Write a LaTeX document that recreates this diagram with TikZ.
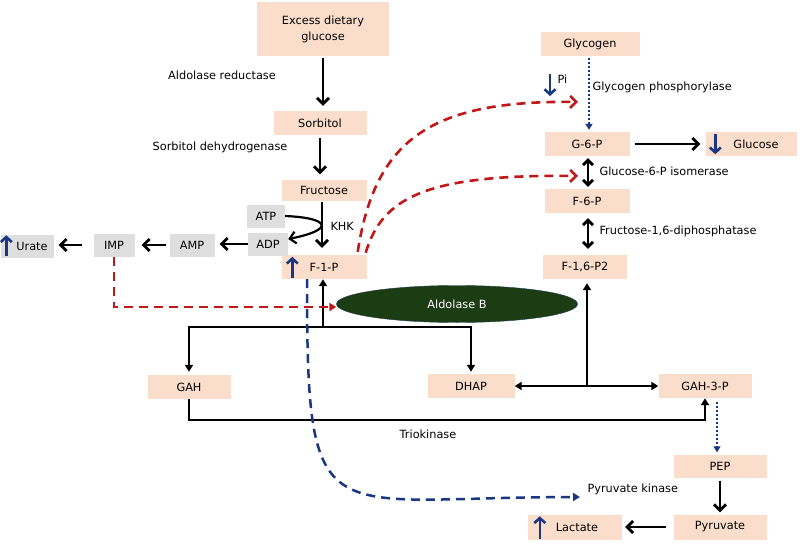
\documentclass[tikz,border=0pt]{standalone}
\usepackage{fontspec}
\setmainfont{DejaVu Sans}
\usetikzlibrary{arrows.meta,calc,positioning,shapes.geometric}

\definecolor{peach}{RGB}{250,222,203}
\definecolor{greyBox}{RGB}{222,222,222}
\definecolor{navy}{RGB}{26,56,130}
\definecolor{darkRed}{RGB}{192,24,24}
\definecolor{enzymeGreen}{RGB}{28,60,20}

\begin{document}
\begin{tikzpicture}[
    x=1pt, y=-1pt,
    font=\fontsize{11.3}{16}\selectfont,
    metab/.style={fill=peach, inner sep=0pt, minimum height=24pt},
    cofactor/.style={fill=greyBox, inner sep=0pt, minimum height=23pt},
    flowArrow/.style={-{Straight Barb[length=6pt,width=12pt]}, line width=2.8pt},
    splitArrow/.style={-{Triangle[length=7pt,width=8pt]}, line width=2.2pt},
    twoWay/.style={{Straight Barb[length=5pt,width=10pt]}-{Straight Barb[length=5pt,width=10pt]}, line width=2.8pt},
    twoWaySmall/.style={{Triangle[length=7pt,width=8pt]}-{Triangle[length=7pt,width=8pt]}, line width=2.2pt},
    navyArrow/.style={-{Straight Barb[length=5pt,width=11pt]}, line width=2.6pt, draw=navy},
    navyDotted/.style={-{Triangle[length=6pt,width=7pt]}, line width=2.2pt, draw=navy, dash pattern=on 2pt off 2pt},
    navyDash/.style={-{Triangle[length=7pt,width=8pt]}, line width=2.5pt, draw=navy, dash pattern=on 9pt off 6pt},
    redDash/.style={line width=2.6pt, draw=darkRed, dash pattern=on 9pt off 6pt},
  ]
\useasboundingbox (0,0) rectangle (800,559);

% ---- fructose entry ---------------------------------------------------
\node[metab, minimum width=132pt, minimum height=54pt, align=center] (glucoseIn) at (323,29) {Excess dietary\\glucose};
\node[metab, minimum width=93pt] (sorbitol) at (320,123) {Sorbitol};
\node[metab, minimum width=85pt, minimum height=21pt] (fructose) at (324,190) {Fructose};
\node[metab, minimum width=85pt] (fOneP) at (324,267) {F-1-P};
\node (reductaseLabel) at (222,75) {Aldolase reductase};
\node (dehydroLabel) at (220,147) {Sorbitol dehydrogenase};
\node[anchor=west] (khkLabel) at (327,226) {KHK};

\draw[flowArrow, shorten <=2pt, shorten >=5pt] (glucoseIn.south) -- (glucoseIn.south |- sorbitol.north);
\draw[flowArrow, shorten <=3pt, shorten >=5pt] (sorbitol.south) -- (sorbitol.south |- fructose.north);
\draw[flowArrow, shorten <=1pt, shorten >=7pt] ([xshift=-2pt]fructose.south) -- ([xshift=-2pt]fOneP.north);

% ---- ATP depletion ----------------------------------------------------
\node[cofactor, minimum width=38pt] (atp) at (266,216) {ATP};
\node[cofactor, minimum width=40pt] (adp) at (268,244) {ADP};
\node[cofactor, minimum width=45pt] (amp) at (192,245) {AMP};
\node[cofactor, minimum width=41pt] (imp) at (114,245) {IMP};
\node[cofactor, minimum width=53pt] (urate) at (27,246) {\hspace*{10pt}Urate};

\draw[flowArrow, line width=2.2pt] (atp.east) .. controls +(46,2) and +(46,-9) .. ([yshift=5pt]adp.east);
\draw[flowArrow, shorten >=5pt] (adp.west) -- (adp.west -| amp.east);
\draw[flowArrow, shorten <=3pt, shorten >=7pt] (amp.west) -- (amp.west -| imp.east);
\draw[flowArrow, shorten <=11pt, shorten >=5pt] (imp.west) -- (imp.west -| urate.east);
\draw[navyArrow] ([xshift=6pt,yshift=2pt]urate.south west) -- ([xshift=6pt,yshift=-1pt]urate.north west);
\draw[navyArrow] ([xshift=11pt,yshift=1pt]fOneP.south west) -- ([xshift=11pt,yshift=-2pt]fOneP.north west);

% ---- aldolase B cleavage ------------------------------------------------
\node[ellipse, fill=enzymeGreen, draw=navy!50!enzymeGreen, minimum width=241pt, minimum height=37pt, inner sep=0pt, text=white] (aldolaseB) at (457,304) {Aldolase B};
\node[metab, minimum width=83pt] (gah) at (189,387) {GAH};
\node[metab, minimum width=87pt] (dhap) at (471,386) {DHAP};
\node[metab, minimum width=93pt] (gahThreeP) at (705,386) {GAH-3-P};
\node (triLabel) at (428,434) {Triokinase};
\coordinate (split) at (323,327);
\coordinate (merge) at (587,386);
\coordinate (triLevel) at (0,420);

\draw[splitArrow] (split) -- (split |- fOneP.south);
\draw[splitArrow, shorten >=3pt] (split) -| (gah.north);
\draw[splitArrow, shorten >=2pt] (split) -| (dhap.north);
\draw[splitArrow] (gah.south) -- (gah.south |- triLevel) -| (gahThreeP.south);
\draw[twoWaySmall] (dhap) -- (gahThreeP);

% ---- glycogen and gluconeogenesis --------------------------------------
\node[metab, minimum width=99pt] (glycogen) at (590,44) {Glycogen};
\node[metab, minimum width=85pt] (gSixP) at (587,144) {G-6-P};
\node[metab, minimum width=91pt] (glucoseOut) at (751,144) {\hspace*{10pt}Glucose};
\node[metab, minimum width=85pt] (fSixP) at (587,201) {F-6-P};
\node[metab, minimum width=84pt] (fBisP) at (585,267) {F-1,6-P2};
\node[anchor=west] (piLabel) at (554,79) {Pi};
\node[anchor=west] (phosLabel) at (589,87) {Glycogen phosphorylase};
\node[anchor=west] (isoLabel) at (596,171) {Glucose-6-P isomerase};
\node[anchor=west] (fbpLabel) at (596,231) {Fructose-1,6-diphosphatase};

\draw[splitArrow, shorten >=4pt] (merge) -- (merge |- fBisP.south);
\draw[navyDotted, shorten <=2pt, shorten >=2pt] ([xshift=2pt]gSixP.north |- glycogen.south) -- ([xshift=2pt]gSixP.north);
\draw[flowArrow, shorten <=5pt, shorten >=5pt] (gSixP) -- (glucoseOut);
\draw[twoWay, shorten <=2pt, shorten >=2pt] ([xshift=1pt]gSixP.south) -- ([xshift=1pt]fSixP.north);
\draw[twoWay, shorten <=5pt, shorten >=6pt] ([xshift=1pt]fSixP.south) -- ([xshift=1pt]fSixP.south |- fBisP.north);
\draw[navyArrow] ([xshift=10pt,yshift=-2pt]glucoseOut.north west) -- ([xshift=10pt,yshift=2pt]glucoseOut.south west);
\draw[navyArrow] ($(piLabel.west)+(-4,-5)$) -- ++(0,22);

% ---- glycolysis to lactate ------------------------------------------------
\node[metab, minimum width=93pt, minimum height=23pt] (pep) at (720,466) {PEP};
\node[metab, minimum width=93pt, minimum height=25pt] (pyruvate) at (720,527) {Pyruvate};
\node[metab, minimum width=94pt, minimum height=25pt] (lactate) at (575,527) {\hspace*{4pt}Lactate};
\node[anchor=west] (pkLabel) at (584,489) {Pyruvate kinase};

\draw[navyDotted, shorten <=4pt, shorten >=2pt] ([xshift=-3pt]pep.north |- gahThreeP.south) -- ([xshift=-3pt]pep.north);
\draw[flowArrow, shorten <=3pt, shorten >=2pt] (pep) -- (pyruvate);
\draw[flowArrow, shorten <=7pt, shorten >=3pt] (pyruvate) -- (lactate);
\draw[navyArrow] ([xshift=12pt,yshift=1pt]lactate.south west) -- ([xshift=12pt,yshift=-2pt]lactate.north west);

% ---- regulatory effects of F-1-P -------------------------------------------
\coordinate (phosTarget) at (578,102);
\coordinate (isoTarget) at (578,176);
\coordinate (kinaseTarget) at (580,497);
\draw[redDash, -{Triangle[length=7pt,width=8pt]}] (imp.south) |- ([yshift=-3pt]aldolaseB.west);
\draw[redDash, -{Straight Barb[length=6pt,width=12pt]}] ([xshift=-9pt,yshift=3pt]fOneP.north east) .. controls (375,140) and (430,100) .. (phosTarget);
\draw[redDash, -{Straight Barb[length=6pt,width=12pt]}] ([xshift=-1pt,yshift=2pt]fOneP.north east) .. controls (382,198) and (425,174) .. (isoTarget);
\draw[navyDash] ([xshift=-17pt]fOneP.south) .. controls (307,540) and (320,497) .. (kinaseTarget);

\end{tikzpicture}
\end{document}
